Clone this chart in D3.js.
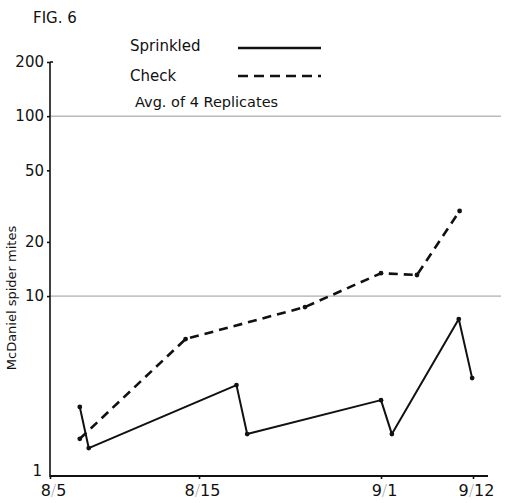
<!DOCTYPE html>
<html lang="en">
<head>
<meta charset="utf-8">
<title>Fig. 6</title>
<script src="https://d3js.org/d3.v7.min.js"></script>
<style>
  body { margin: 0; background: #fff; }
  text { font-family: "DejaVu Sans", sans-serif; fill: #111; }
  .axis .domain { display: none; }
</style>
</head>
<body>
<div id="chart"></div>
<script>
// days after 8/5
var xTickDays = [0, 10, 27, 38];
var xTickLabels = ["8/5", "8/15", "9/1", "9/12"];
var yTicks = [1, 10, 20, 50, 100, 200];
var gridValues = [10, 100];

var sprinkledDays = [2, 2.6, 13.5, 14.5, 27, 28.3, 36.3, 37.9];
var sprinkledMites = [2.42, 1.43, 3.2, 1.71, 2.64, 1.71, 7.45, 3.5];

var checkDays = [2, 9.1, 19.9, 27, 31.3, 36.4];
var checkMites = [1.61, 5.77, 8.69, 13.4, 13.1, 29.7];

var width = 505, height = 503;

var svg = d3.select("#chart").append("svg")
  .attr("width", width)
  .attr("height", height);

// the printed date axis is not evenly spaced, so use a piecewise scale
var x = d3.scaleLinear()
  .domain(xTickDays)
  .range([50, 199, 381, 473]);

var y = d3.scaleLog()
  .domain([1, 200])
  .range([476, 62]);

// title
svg.append("text")
  .attr("x", 33)
  .attr("y", 23)
  .attr("font-size", 15)
  .text("FIG. 6");

// grid lines at 10 and 100
svg.selectAll(".grid")
  .data(gridValues)
  .enter().append("line")
  .attr("x1", 50)
  .attr("x2", 501)
  .attr("y1", d => y(d))
  .attr("y2", d => y(d))
  .attr("stroke", "#999")
  .attr("stroke-width", 1);

// y axis
svg.append("line")
  .attr("x1", 50).attr("x2", 50)
  .attr("y1", y(200)).attr("y2", y(1) + 1)
  .attr("stroke", "#111")
  .attr("stroke-width", 1.6);

svg.append("line")
  .attr("x1", 50).attr("x2", 53)
  .attr("y1", y(200)).attr("y2", y(200))
  .attr("stroke", "#111")
  .attr("stroke-width", 1.6);

var yAxis = svg.append("g")
  .attr("class", "axis")
  .attr("transform", "translate(50,0)")
  .call(d3.axisLeft(y).tickValues(yTicks).tickSize(3).tickPadding(3).tickFormat(d3.format("d")));

yAxis.selectAll("text")
  .attr("font-size", 15)
  .style("font-family", "DejaVu Sans, sans-serif")
  .attr("fill", "#111");
yAxis.selectAll(".tick line").attr("stroke", "#111").attr("stroke-width", 1.6);
// the "1" sits a little above and left of the corner
yAxis.selectAll(".tick").filter(d => d === 1).select("text")
  .attr("x", -8).attr("dy", "-0.05em");
yAxis.selectAll(".tick").filter(d => d === 1).select("line").remove();

// y label
svg.append("text")
  .attr("transform", "translate(16,298) rotate(-90)")
  .attr("text-anchor", "middle")
  .attr("font-size", 13)
  .text("McDaniel spider mites");

// x axis
svg.append("line")
  .attr("x1", 50).attr("x2", 488)
  .attr("y1", y(1)).attr("y2", y(1))
  .attr("stroke", "#111")
  .attr("stroke-width", 2.2);

var xAxis = svg.append("g")
  .attr("class", "axis")
  .attr("transform", "translate(0," + y(1) + ")")
  .call(d3.axisBottom(x).tickValues(xTickDays).tickSize(3).tickPadding(4).tickFormat(""));

xAxis.selectAll(".tick line").attr("stroke", "#111").attr("stroke-width", 1.6);

// date labels with the thin grey slash of the original
var labels = xAxis.selectAll(".tick").append("text")
  .attr("y", 20)
  .attr("x", 3)
  .attr("text-anchor", "middle")
  .attr("font-size", 16)
  .style("font-family", "DejaVu Sans, sans-serif");

labels.each(function(d, i) {
  var parts = xTickLabels[i].split("/");
  var t = d3.select(this);
  t.append("tspan").attr("fill", "#111").text(parts[0]);
  t.append("tspan").attr("fill", "#aaa").attr("font-weight", "lighter").text("/");
  t.append("tspan").attr("fill", "#111").text(parts[1]);
});

// series
var line = d3.line()
  .x(d => x(d[0]))
  .y(d => y(d[1]));

var sprinkled = sprinkledDays.map((d, i) => [d, sprinkledMites[i]]);
var check = checkDays.map((d, i) => [d, checkMites[i]]);

svg.append("path")
  .datum(check)
  .attr("d", line)
  .attr("fill", "none")
  .attr("stroke", "#111")
  .attr("stroke-width", 2.6)
  .attr("stroke-dasharray", "9,6");

svg.append("path")
  .datum(sprinkled)
  .attr("d", line)
  .attr("fill", "none")
  .attr("stroke", "#111")
  .attr("stroke-width", 2)
  .attr("stroke-linejoin", "round");

svg.selectAll(".pt")
  .data(sprinkled.concat(check))
  .enter().append("circle")
  .attr("cx", d => x(d[0]))
  .attr("cy", d => y(d[1]))
  .attr("r", 2.4)
  .attr("fill", "#111");

// legend
svg.append("text").attr("x", 130).attr("y", 51).attr("font-size", 15).text("Sprinkled");
svg.append("line")
  .attr("x1", 238).attr("x2", 321).attr("y1", 48).attr("y2", 48)
  .attr("stroke", "#111").attr("stroke-width", 2.4);

svg.append("text").attr("x", 130).attr("y", 81).attr("font-size", 15).text("Check");
svg.append("line")
  .attr("x1", 238).attr("x2", 321).attr("y1", 76).attr("y2", 76)
  .attr("stroke", "#111").attr("stroke-width", 2.6)
  .attr("stroke-dasharray", "10,6");

svg.append("text").attr("x", 135).attr("y", 107).attr("font-size", 14.5).text("Avg. of 4 Replicates");
</script>
</body>
</html>
